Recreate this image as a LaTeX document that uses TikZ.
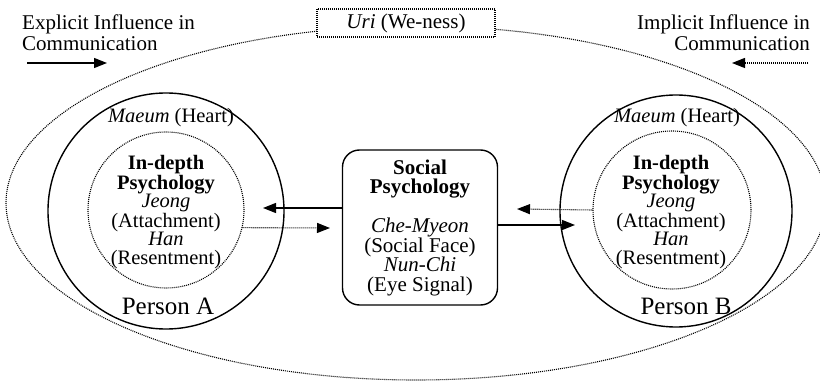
\documentclass[tikz,border=0pt]{standalone}
\usepackage{fontspec}
\setmainfont{Liberation Serif}
\usetikzlibrary{arrows.meta}
\begin{document}
\begin{tikzpicture}[x=1pt,y=-1pt,
  dotline/.style={line width=1.1pt, dash pattern=on 1pt off 1pt},
  solidline/.style={line width=1.4pt},
  tipstyle/.style={-{Triangle[length=13pt,width=10pt]}},
  lbl/.style={inner sep=0pt, align=center, font=\fontsize{20.5}{18.5}\selectfont},
  person/.style={circle, draw, solidline, inner sep=0pt},
  inner/.style={circle, draw, dotline, inner sep=0pt}]
\useasboundingbox (0,0) rectangle (820,382);

% outer ellipse (Uri)
\draw[dotline] (416,203) ellipse [x radius=410, y radius=177];
\node[draw, dotline, fill=white, minimum width=178pt, minimum height=28pt, inner sep=0pt,
      font=\fontsize{21}{21}\selectfont] (uri) at (406,23) {\textit{Uri} (We-ness)};

% top labels
\node[anchor=west, align=left, inner sep=0pt, font=\fontsize{21}{21}\selectfont] (expl) at (22,33)
  {Explicit Influence in\\Communication};
\node[anchor=east, align=right, inner sep=0pt, font=\fontsize{21}{21}\selectfont] (impl) at (810,33)
  {Implicit Influence in\\Communication};
\coordinate (e1) at (27,63);
\coordinate (e2) at (107,63);
\coordinate (i1) at (808,63);
\coordinate (i2) at (732,63);
\draw[solidline, tipstyle] (e1) -- (e2);
\draw[dotline, tipstyle] (i1) -- (i2);

% persons
\node[person, minimum size=236pt] (pA) at (166,211) {};
\node[person, minimum size=232pt] (pB) at (676,211) {};
\node[inner, minimum size=156pt] (inA) at (166,210) {};
\node[inner, minimum size=158pt] (inB) at (672,210) {};

\node[lbl] (mA) at (171,118) {\textit{Maeum} (Heart)};
\node[lbl] (mB) at (677,118) {\textit{Maeum} (Heart)};

\node[lbl] (dA) at (166,212) {\textbf{In-depth}\\\textbf{Psychology}\\\textit{Jeong}\\(Attachment)\\\textit{Han}\\(Resentment)};
\node[lbl] (dB) at (671,212) {\textbf{In-depth}\\\textbf{Psychology}\\\textit{Jeong}\\(Attachment)\\\textit{Han}\\(Resentment)};

\node[inner sep=0pt, font=\fontsize{25}{25}\selectfont] (nA) at (168,306) {Person A};
\node[inner sep=0pt, font=\fontsize{25}{25}\selectfont] (nB) at (686,306) {Person B};

% social psychology
\node[draw, solidline, rounded corners=17pt, minimum width=155pt, minimum height=155pt,
      inner sep=0pt, align=center, font=\fontsize{21}{19.5}\selectfont] (soc) at (420,227.5)
  {\textbf{Social}\\\textbf{Psychology}\\[19.5pt]\textit{Che-Myeon}\\(Social Face)\\\textit{Nun-Chi}\\(Eye Signal)};

% arrows
\coordinate (tL) at (263,208);
\coordinate (tLd) at (330,228);
\coordinate (tRd) at (517,209);
\coordinate (tR) at (575,225);
\draw[solidline, tipstyle] ([yshift=19.5pt]soc.west) -- (tL);
\draw[dotline, tipstyle] (inA.-13.5) -- (tLd);
\draw[dotline, tipstyle] (inB.180) -- (tRd);
\draw[solidline, tipstyle] ([yshift=2.5pt]soc.east) -- (tR);
\end{tikzpicture}
\end{document}
